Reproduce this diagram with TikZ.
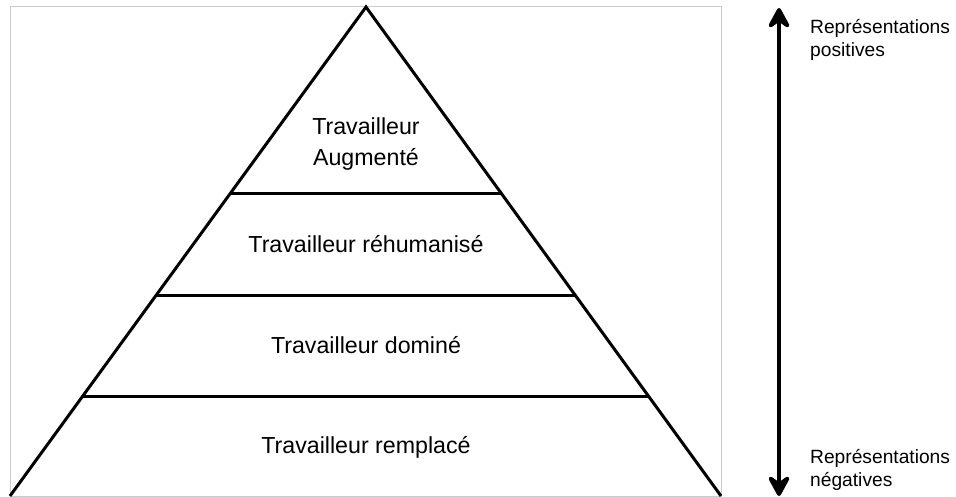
\documentclass[tikz,border=0pt]{standalone}
\usepackage{fontspec}
\setmainfont{Liberation Sans}
\usetikzlibrary{arrows.meta,calc}

\def\pxunit{1pt}

\begin{document}
\begin{tikzpicture}[x=\pxunit, y=-\pxunit,
    tier/.style={line width=3pt, line join=miter},
    tiertext/.style={inner sep=0pt, align=center, font=\fontsize{23.2}{31}\selectfont},
    sidetext/.style={inner sep=0pt, align=left, anchor=north west, font=\fontsize{19.2}{23}\selectfont},
    bighead/.tip={Stealth[length=26pt, width=28pt, inset=10pt, round]}]
      \useasboundingbox (0,0) rectangle (956,497);
      \draw[gray!40, line width=1pt] (10,7) rectangle (721,496);
      % pyramid
      \coordinate (top) at (366,7);
      \coordinate (bl) at (10,496);
      \coordinate (br) at (721,496);
      \draw[tier] (bl) -- (top) -- (br);
      \foreach \t/\n in {0.3824/a, 0.589/b, 0.7955/c} {
        \coordinate (l\n) at ($(top)!\t!(bl)$);
        \coordinate (r\n) at ($(top)!\t!(br)$);
        \draw[tier] (l\n) -- (r\n);
      }
      \node[tiertext, anchor=center] (augm) at (366,144) {Travailleur\\Augmenté};
      \node[tiertext, anchor=base] (rehum) at (366,253) {Travailleur réhumanisé};
      \node[tiertext, anchor=base] (domin) at (366,353) {Travailleur dominé};
      \node[tiertext, anchor=base] (rempl) at (366,453) {Travailleur remplacé};
      % scale of representations
      \coordinate (up) at (779,8);
      \coordinate (down) at (779,496);
      \draw[line width=4.5pt, bighead-bighead] (up) -- (down);
      \node[sidetext] (pos) at (810,19) {Représentations\\positives};
      \node[sidetext] (neg) at (810,449) {Représentations\\négatives};
    \end{tikzpicture}
\end{document}
